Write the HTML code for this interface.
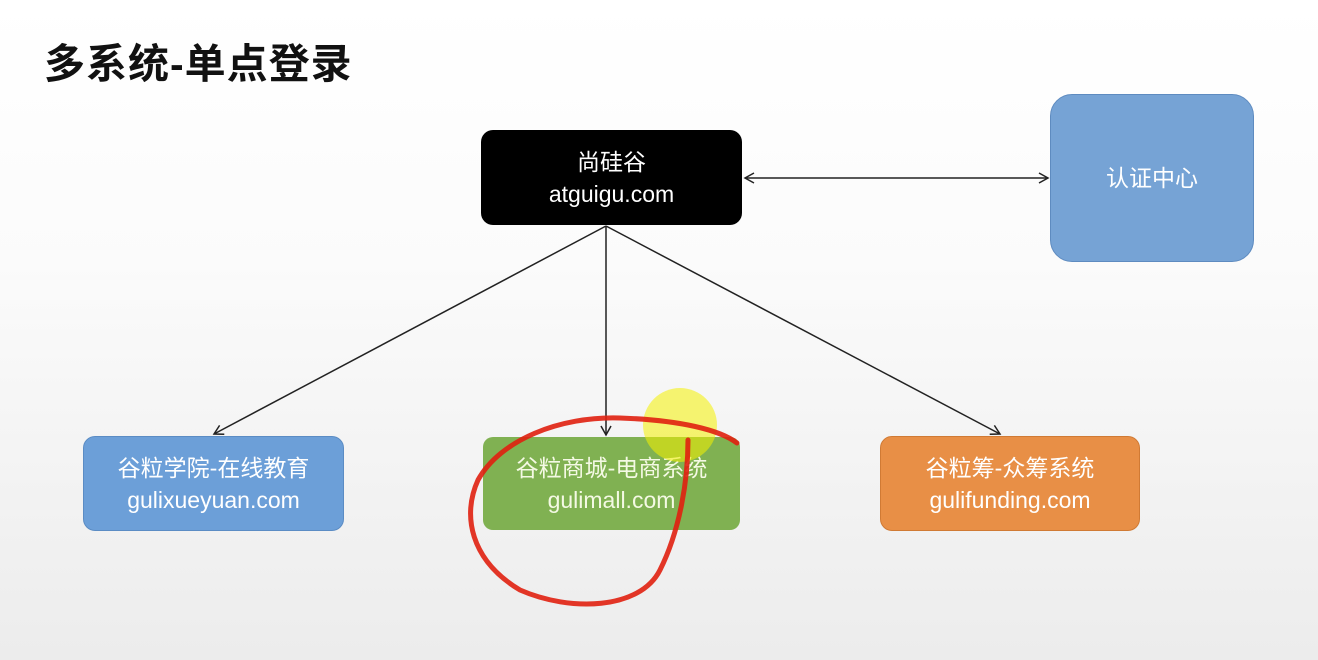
<!DOCTYPE html>
<html><head><meta charset="utf-8"><style>
html,body{margin:0;padding:0}
body{width:1318px;height:660px;overflow:hidden;position:relative;background:linear-gradient(#ffffff 0%,#fbfbfb 40%,#ececec 100%);font-family:"Liberation Sans","Noto Sans CJK SC",sans-serif}
.t{position:absolute;left:44px;top:38px;font-size:41px;font-weight:bold;color:#111;letter-spacing:1px;line-height:52px}
.b{position:absolute;color:#fff;font-size:23px;line-height:32px;text-align:center;display:flex;flex-direction:column;justify-content:center;box-sizing:border-box}
svg{position:absolute;left:0;top:0}
</style></head><body>
<div class="t">多系统-单点登录</div>
<div class="b" style="left:481px;top:130px;width:261px;height:95px;background:#000;border-radius:12px">尚硅谷<br>atguigu.com</div>
<div class="b" style="left:1050px;top:94px;width:204px;height:168px;background:#76a3d5;border-radius:22px;border:1px solid #5e8bc0">认证中心</div>
<div class="b" style="left:83px;top:436px;width:261px;height:95px;background:#6c9fd8;border-radius:12px;border:1px solid #5b8cc4">谷粒学院-在线教育<br>gulixueyuan.com</div>
<div class="b" style="left:483px;top:437px;width:257px;height:93px;background:#80b152;border-radius:10px;color:#f4f9e4">谷粒商城-电商系统<br>gulimall.com</div>
<div class="b" style="left:880px;top:436px;width:260px;height:95px;background:#e88f46;border-radius:12px;border:1px solid #d07a34">谷粒筹-众筹系统<br>gulifunding.com</div>
<svg width="1318" height="660">
<defs><marker id="a" markerWidth="12" markerHeight="12" refX="10" refY="6" orient="auto-start-reverse" markerUnits="userSpaceOnUse"><path d="M1,1 L10,6 L1,11" fill="none" stroke="#222" stroke-width="1.5"/></marker></defs>
<g stroke="#222" stroke-width="1.5" fill="none">
<line x1="606" y1="226" x2="214" y2="434" marker-end="url(#a)"/>
<line x1="606" y1="226" x2="606" y2="435" marker-end="url(#a)"/>
<line x1="606" y1="226" x2="1000" y2="434" marker-end="url(#a)"/>
<line x1="745" y1="178" x2="1048" y2="178" marker-end="url(#a)" marker-start="url(#a)"/>
</g>
<circle cx="680" cy="425" r="37" fill="#f4f000" opacity="0.55"/>
<path d="M737,443 C720,430 680,420 620,418 C560,416 500,440 478,480 C462,515 470,560 520,590 C570,612 640,610 660,570 C680,530 688,480 688,440" fill="none" stroke="#e02010" stroke-width="5" stroke-linecap="round" opacity="0.9"/>
</svg>
</body></html>
